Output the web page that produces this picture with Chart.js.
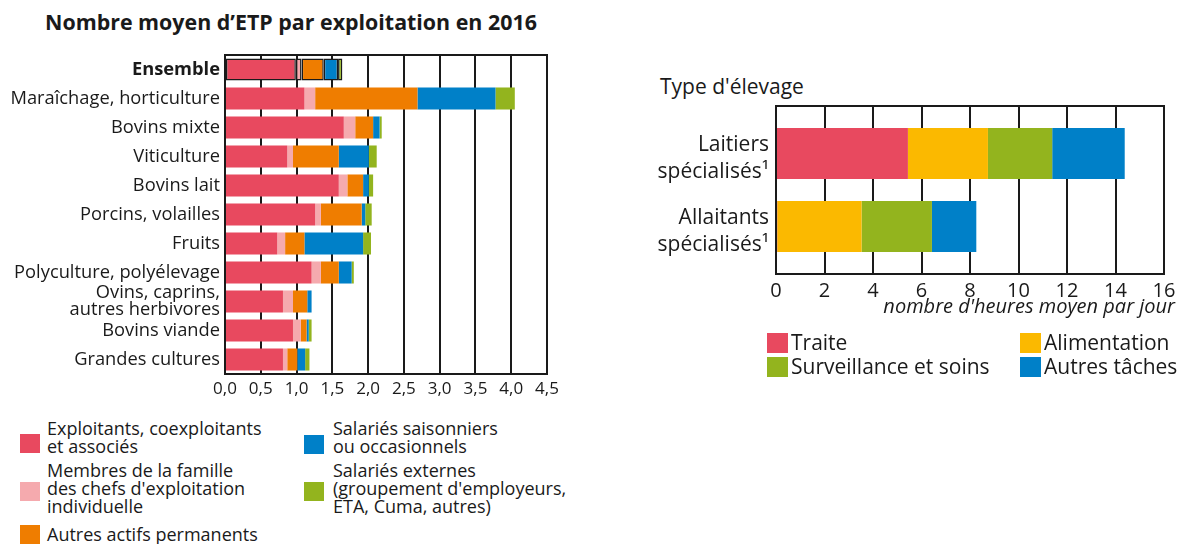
<!DOCTYPE html>
<html lang="fr">
<head>
<meta charset="utf-8">
<script src="https://cdn.jsdelivr.net/npm/chart.js@4.4.0/dist/chart.umd.min.js"></script>
<style>
  body { margin: 0; width: 1181px; height: 544px; background: #fff; position: relative; overflow: hidden;
         font-family: 'Open Sans', sans-serif; color: #1a1a1a; }
  .abs { position: absolute; }
  .title { font-weight: bold; font-size: 21.4px; white-space: nowrap; }
  .sq { position: absolute; width: 20px; height: 19px; }
  .lg { position: absolute; font-size: 18px; line-height: 18px; white-space: nowrap; }
  .lg2 { position: absolute; font-size: 21px; line-height: 24px; white-space: nowrap; }
</style>
</head>
<body>
<div class="abs title" style="left:45px; top:7px;">Nombre moyen d’ETP par exploitation en 2016</div>
<div class="abs" style="left:0; top:40px; width:570px; height:370px;"><canvas id="etpChart"></canvas></div>

<div class="abs" style="left:660px; top:72px; font-size:21px;">Type d'élevage</div>
<div class="abs" style="left:640px; top:100px; width:541px; height:230px;"><canvas id="heuresChart"></canvas></div>
<div class="abs" style="right:6px; top:292px; font-size:20px; font-style:italic; white-space:nowrap;">nombre d'heures moyen par jour</div>

<!-- legende gauche -->
<div class="sq" style="left:20px; top:434px; background:#e8495f;"></div>
<div class="lg" style="left:47px; top:419px;">Exploitants, coexploitants<br>et associés</div>
<div class="sq" style="left:20px; top:482px; background:#f5aaae;"></div>
<div class="lg" style="left:47px; top:461px;">Membres de la famille<br>des chefs d'exploitation<br>individuelle</div>
<div class="sq" style="left:20px; top:525px; background:#ef7d00;"></div>
<div class="lg" style="left:47px; top:525px;">Autres actifs permanents</div>
<div class="sq" style="left:304px; top:435px; background:#0080c8;"></div>
<div class="lg" style="left:333px; top:419px;">Salariés saisonniers<br>ou occasionnels</div>
<div class="sq" style="left:304px; top:482px; background:#93b41e;"></div>
<div class="lg" style="left:333px; top:461px;">Salariés externes<br>(groupement d'employeurs,<br>ETA, Cuma, autres)</div>

<!-- legende droite -->
<div class="sq" style="left:767px; top:333px; width:21px; height:20px; background:#e8495f;"></div>
<div class="lg2" style="left:791px; top:330px;">Traite</div>
<div class="sq" style="left:1020px; top:333px; width:21px; height:20px; background:#fbb900;"></div>
<div class="lg2" style="left:1044px; top:330px;">Alimentation</div>
<div class="sq" style="left:767px; top:357px; width:21px; height:20px; background:#93b41e;"></div>
<div class="lg2" style="left:791px; top:354px;">Surveillance et soins</div>
<div class="sq" style="left:1020px; top:357px; width:21px; height:20px; background:#0080c8;"></div>
<div class="lg2" style="left:1044px; top:354px;">Autres tâches</div>

<script>
// ETP moyen par exploitation, 2016
const etpCategories = ['Ensemble', 'Maraîchage, horticulture', 'Bovins mixte', 'Viticulture', 'Bovins lait',
  'Porcins, volailles', 'Fruits', 'Polyculture, polyélevage', ['Ovins, caprins,', 'autres herbivores'],
  'Bovins viande', 'Grandes cultures'];
const exploitants  = [0.99, 1.11, 1.66, 0.87, 1.59, 1.26, 0.73, 1.21, 0.81, 0.95, 0.81];
const famille      = [0.08, 0.15, 0.16, 0.08, 0.12, 0.08, 0.11, 0.13, 0.14, 0.11, 0.06];
const autresActifs = [0.31, 1.43, 0.25, 0.64, 0.22, 0.57, 0.27, 0.25, 0.20, 0.08, 0.14];
const saisonniers  = [0.20, 1.09, 0.09, 0.42, 0.08, 0.05, 0.82, 0.18, 0.06, 0.03, 0.11];
const externes     = [0.06, 0.27, 0.03, 0.11, 0.06, 0.09, 0.11, 0.03, 0.00, 0.04, 0.06];
const etpTicks = [0, 0.5, 1, 1.5, 2, 2.5, 3, 3.5, 4, 4.5];

// heures par jour selon le type d'elevage
const elevageTypes = [['Laitiers', 'spécialisés¹'], ['Allaitants', 'spécialisés¹']];
const traite       = [5.44, 0.05];
const alimentation = [3.30, 3.48];
const surveillance = [2.65, 2.90];
const autresTaches = [2.99, 1.83];

Chart.defaults.font.family = "'Open Sans', sans-serif";
Chart.defaults.color = '#1a1a1a';

const lineColor = '#1a1a1a';
const red = '#e8495f';
const pink = '#f5aaae';
const orange = '#ef7d00';
const blue = '#0080c8';
const green = '#93b41e';
const yellow = '#fbb900';

// cadre noir autour de la zone de trace
const plotFrame = {
  id: 'plotFrame',
  beforeDatasetsDraw(chart) {
    const { ctx, chartArea: a } = chart;
    ctx.save();
    ctx.strokeStyle = lineColor;
    ctx.lineWidth = 2;
    ctx.strokeRect(a.left, a.top, a.right - a.left, a.bottom - a.top);
    ctx.restore();
  }
};

const ensembleBorder = ctx => ctx.dataIndex === 0 ? 1.5 : 0;
const etpSets = [
  { label: 'Exploitants, coexploitants et associés', data: exploitants, backgroundColor: red },
  { label: 'Membres de la famille', data: famille, backgroundColor: pink },
  { label: 'Autres actifs permanents', data: autresActifs, backgroundColor: orange },
  { label: 'Salariés saisonniers ou occasionnels', data: saisonniers, backgroundColor: blue },
  { label: 'Salariés externes', data: externes, backgroundColor: green }
].map(d => ({ ...d, borderWidth: ensembleBorder, borderColor: lineColor, borderSkipped: false,
  barPercentage: 0.76, categoryPercentage: 1 }));

new Chart(document.getElementById('etpChart'), {
  type: 'bar',
  data: { labels: etpCategories, datasets: etpSets },
  options: {
    indexAxis: 'y',
    responsive: true,
    maintainAspectRatio: false,
    animation: false,
    layout: { padding: { top: 15, right: 23, left: 0, bottom: 0 } },
    plugins: { legend: { display: false }, tooltip: { enabled: false } },
    scales: {
      x: {
        stacked: true, min: 0, max: 4.5,
        afterBuildTicks: s => { s.ticks = etpTicks.map(v => ({ value: v })); },
        afterFit: s => { s.height = 36; },
        grid: { color: lineColor, lineWidth: 2, drawTicks: false },
        border: { color: lineColor, width: 2 },
        ticks: { padding: 5, font: { size: 17 }, callback: v => v.toFixed(1).replace('.', ',') }
      },
      y: {
        stacked: true,
        afterFit: s => { s.width = 225; },
        grid: { display: false, drawTicks: false },
        border: { color: lineColor, width: 2 },
        ticks: {
          autoSkip: false,
          padding: 5,
          font: ctx => ({ size: 18.3, lineHeight: 0.9, weight: ctx.index === 0 ? 'bold' : 'normal' })
        }
      }
    }
  },
  plugins: [plotFrame]
});

const toPoints = arr => arr.map((v, i) => ({ x: v, y: i }));
new Chart(document.getElementById('heuresChart'), {
  type: 'bar',
  data: {
    datasets: [
      { label: 'Traite', data: toPoints(traite), backgroundColor: red },
      { label: 'Alimentation', data: toPoints(alimentation), backgroundColor: yellow },
      { label: 'Surveillance et soins', data: toPoints(surveillance), backgroundColor: green },
      { label: 'Autres tâches', data: toPoints(autresTaches), backgroundColor: blue }
    ].map(d => ({ ...d, barPercentage: 0.7, categoryPercentage: 1 }))
  },
  options: {
    indexAxis: 'y',
    responsive: true,
    maintainAspectRatio: false,
    animation: false,
    layout: { padding: { top: 6, right: 17, left: 0, bottom: 0 } },
    plugins: { legend: { display: false }, tooltip: { enabled: false } },
    scales: {
      x: {
        stacked: true, min: 0, max: 16,
        ticks: { stepSize: 2, padding: 5, font: { size: 20 } },
        afterFit: s => { s.height = 56; },
        grid: { color: lineColor, lineWidth: 2, drawTicks: false },
        border: { color: lineColor, width: 2 }
      },
      y: {
        type: 'linear', stacked: true, reverse: true, offset: false, min: -0.65, max: 1.65,
        afterBuildTicks: s => { s.ticks = elevageTypes.map((t, i) => ({ value: i })); },
        afterFit: s => { s.width = 136; s.paddingTop = 0; s.paddingBottom = 0; },
        grid: { display: false, drawTicks: false },
        border: { color: lineColor, width: 2 },
        ticks: { padding: 7, labelOffset: 5, font: { size: 21, lineHeight: 1.25 }, callback: v => elevageTypes[v] }
      }
    }
  },
  plugins: [plotFrame]
});
</script>
</body>
</html>
